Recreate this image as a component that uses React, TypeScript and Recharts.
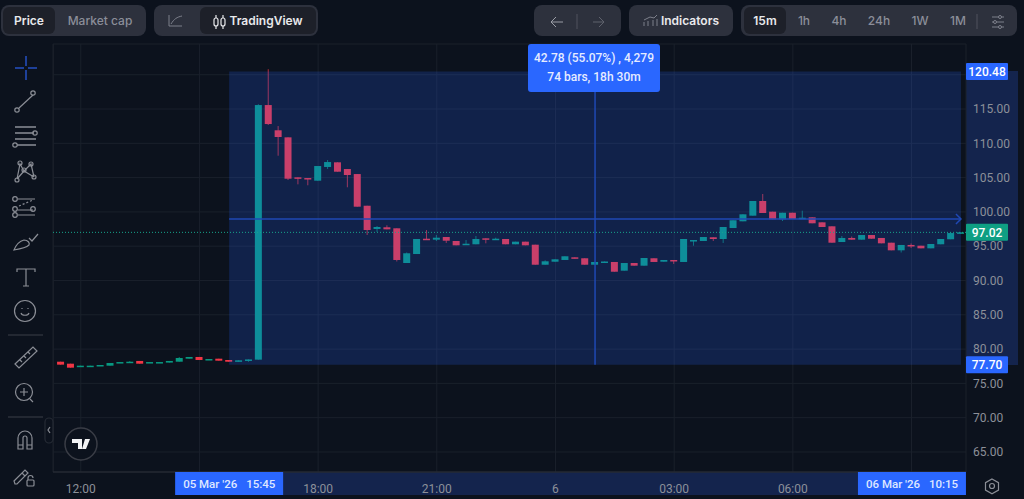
import { ReactNode } from 'react';
import {
  Bar,
  CartesianGrid,
  ComposedChart,
  ReferenceArea,
  ReferenceDot,
  ReferenceLine,
  XAxis,
  YAxis,
} from 'recharts';

const FIRST_BAR = -2;

const opens = [
  78.16, 77.87, 77.5, 77.52, 77.6, 77.58, 78.04, 78.1, 78.27, 78.05, 78.06, 78.03, 78.16, 78.6, 78.85, 78.48,
  78.6, 78.41, 78.16, 78.43, 78.46, 115.58, 111.9, 110.87, 105.04, 104.94, 104.55, 106.55, 107.23, 106.25, 105.52, 100.9,
  97.51, 97.76, 97.61, 92.55, 93.86, 96.09, 95.95, 96.34, 95.76, 95.22, 95.28, 96.15, 95.95, 96.05, 95.28, 95.66,
  95.22, 92.3, 92.74, 92.99, 93.38, 93.24, 92.3, 92.63, 92.7, 91.43, 92.55, 92.16, 93.24, 92.74, 92.99, 92.7,
  95.8, 95.76, 96.3, 96.05, 97.65, 98.63, 99.45, 101.59, 100.03, 98.92, 99.88, 99.01, 99.21, 98.48, 97.9, 95.61,
  96.2, 95.95, 96.63, 96.2, 95.51, 94.4, 95.18, 95.07, 94.69, 95.28, 96.01, 96.88,
];
const highs = [
  78.16, 77.87, 77.58, 77.58, 77.68, 77.97, 78.11, 78.25, 78.27, 78.11, 78.11, 78.27, 78.85, 78.85, 78.85, 78.55,
  78.6, 78.41, 78.36, 78.49, 115.7, 120.8, 112.52, 110.87, 105.04, 104.94, 106.69, 107.57, 107.23, 106.25, 105.52, 100.9,
  97.94, 98.05, 97.61, 94.08, 96.05, 97.36, 96.63, 96.34, 95.76, 95.9, 96.49, 96.15, 96.24, 96.05, 95.66, 95.66,
  95.22, 92.94, 93.09, 93.53, 93.38, 93.24, 92.7, 92.77, 92.7, 92.55, 92.55, 93.28, 93.24, 92.99, 92.99, 96.05,
  95.9, 96.34, 96.3, 97.8, 98.78, 99.65, 101.59, 102.61, 100.03, 99.88, 99.88, 100.18, 99.21, 98.48, 97.9, 96.49,
  96.41, 96.63, 96.63, 96.2, 95.51, 95.18, 95.4, 95.07, 95.32, 96.05, 97.07, 97.02,
];
const lows = [
  77.73, 77.29, 77.5, 77.52, 77.6, 77.58, 78.04, 78.1, 77.87, 78.05, 78.06, 78.03, 78.16, 78.6, 78.41, 78.48,
  78.31, 78.16, 78.16, 78.15, 78.46, 112.67, 108.19, 104.65, 104.02, 103.88, 104.55, 106.25, 105.86, 103.59, 100.76, 96.63,
  97.07, 97.46, 92.77, 92.55, 93.86, 95.95, 95.76, 95.47, 95.13, 95.22, 95.28, 95.42, 95.95, 95.28, 95.28, 95.13,
  92.3, 92.3, 92.74, 92.99, 93.18, 92.3, 92.3, 92.63, 91.28, 91.43, 92.16, 92.16, 92.7, 92.74, 92.41, 92.7,
  95.07, 95.76, 95.76, 95.47, 97.65, 98.63, 99.45, 99.84, 98.92, 98.67, 98.96, 99.01, 98.34, 97.8, 95.51, 95.61,
  95.95, 95.95, 96.09, 95.42, 94.4, 94.08, 94.74, 94.69, 94.69, 95.28, 96.01, 96.88,
];
const closes = [
  77.73, 77.29, 77.58, 77.58, 77.68, 77.97, 78.11, 78.16, 77.87, 78.11, 78.11, 78.27, 78.7, 78.85, 78.41, 78.55,
  78.31, 78.16, 78.36, 78.49, 115.58, 112.81, 110.92, 104.84, 104.9, 104.8, 106.69, 107.27, 105.86, 105.38, 100.76, 97.36,
  97.8, 97.46, 92.99, 93.97, 96.05, 95.95, 96.24, 95.8, 95.13, 95.36, 96.05, 95.98, 96.09, 95.28, 95.66, 95.13,
  92.3, 92.8, 93.09, 93.53, 93.18, 92.3, 92.7, 92.77, 91.28, 92.55, 92.16, 93.28, 92.7, 92.99, 92.8, 96.05,
  95.9, 96.34, 96.05, 97.8, 98.78, 99.65, 101.59, 99.84, 98.92, 99.88, 98.96, 99.15, 98.34, 97.8, 95.51, 96.2,
  95.95, 96.63, 96.09, 95.42, 94.4, 95.18, 94.96, 94.69, 95.32, 96.05, 96.92, 97.02,
];

const timeTicks = [0, 12, 24, 36, 48, 60, 72, 84];
const timeLabels = ['12:00', '', '18:00', '21:00', '6', '03:00', '06:00', ''];
const priceTicks = [65, 70, 75, 80, 85, 90, 95, 100, 105, 110, 115, 120];

const RANGE_START = 15;
const RANGE_END = 89;
const RANGE_LOW = 77.7;
const RANGE_HIGH = 120.48;
const RANGE_MID_PRICE = 98.96;
const RANGE_MID_BAR = 52;
const LAST_PRICE = 97.02;

const X_MIN = -2.81;
const X_MAX = 89.51;
const Y_MIN = 62.08;
const Y_MAX = 124.48;

const BG = '#0c121d';
const PANEL = '#2d313d';
const ACTIVE = '#1d2029';
const GRID = '#1a202b';
const MUTED = '#8c9099';
const BLUE = '#2a67ff';
const UP = '#089981';
const DOWN = '#f23645';
const RANGE_LINE = '#1f48b4';
const SANS = 'Inter, "Noto Sans", sans-serif';
const AXIS_FONT = 'Roboto, sans-serif';

const candles = opens.map((open, i) => ({
  bar: FIRST_BAR + i,
  open,
  high: highs[i],
  low: lows[i],
  close: closes[i],
  range: [lows[i], highs[i]],
}));

function Candle(props: any) {
  const { x, y, width, height, payload } = props;
  const { open, high, low, close } = payload;
  const perUnit = high > low ? height / (high - low) : 0;
  const bodyTop = y + (high - Math.max(open, close)) * perUnit;
  const bodyHeight = Math.max(Math.abs(open - close) * perUnit, 1.5);
  const color = close >= open ? UP : DOWN;
  return (
    <g>
      <line x1={x + width / 2} x2={x + width / 2} y1={y} y2={y + height} stroke={color} strokeWidth={1} opacity={0.75} />
      <rect x={x} y={bodyTop} width={width} height={bodyHeight} fill={color} />
    </g>
  );
}

function PriceTag(props: any) {
  const { cx, cy, label, tagColor } = props;
  return (
    <g>
      <rect x={cx} y={cy - 8.5} width={42} height={17} rx={1} fill={tagColor} />
      <text x={cx + 21} y={cy + 4.2} textAnchor="middle" fontFamily={AXIS_FONT} fontSize={12} fontWeight={500} fill="#ffffff">
        {label}
      </text>
    </g>
  );
}

function DateTag(props: any) {
  const { cx, cy, offset, date, time } = props;
  const left = cx + offset;
  return (
    <g fontFamily={AXIS_FONT} fontSize={11.5} fontWeight={500}>
      <rect x={left} y={cy} width={108} height={23} fill={BLUE} />
      <text x={left + 8} y={cy + 16} fill="#dfe7ff">{date}</text>
      <text x={left + 71} y={cy + 16} fill="#dfe7ff">{time}</text>
    </g>
  );
}

function Chevron(props: any) {
  const { cx, cy } = props;
  return (
    <polyline
      points={`${cx - 5},${cy - 5} ${cx},${cy} ${cx - 5},${cy + 5}`}
      fill="none"
      stroke={RANGE_LINE}
      strokeWidth={1.5}
    />
  );
}

function Box({ x, y, w, h, bg, r = 6, children }: { x: number; y: number; w: number; h: number; bg: string; r?: number; children?: ReactNode }) {
  return (
    <div style={{ position: 'absolute', left: x, top: y, width: w, height: h, background: bg, borderRadius: r }}>{children}</div>
  );
}

function Label({ cx, y, color, weight = 500, size = 12, font = SANS, children }: { cx: number; y: number; color: string; weight?: number; size?: number; font?: string; children: ReactNode }) {
  return (
    <div
      style={{
        position: 'absolute',
        left: cx - 80,
        width: 160,
        top: y,
        textAlign: 'center',
        whiteSpace: 'nowrap',
        color,
        fontWeight: weight,
        fontSize: size,
        lineHeight: '16px',
        fontFamily: font,
      }}
    >
      {children}
    </div>
  );
}

function Header() {
  return (
    <>
      <Box x={1} y={5} w={145} h={31} bg={PANEL} r={8} />
      <Box x={3} y={7} w={52} h={27} bg={ACTIVE} />
      <Label cx={29} y={13} color="#e8e9ec" weight={600}>Price</Label>
      <Label cx={100} y={13} color="#8b8e99">Market cap</Label>

      <Box x={154} y={5} w={164} h={31} bg={PANEL} r={8} />
      <Box x={200} y={7} w={116} h={27} bg={ACTIVE} />
      <Label cx={266} y={13} color="#e8e9ec" weight={600}>TradingView</Label>

      <Box x={534} y={5} w={87} h={31} bg={PANEL} r={8} />
      <Box x={629} y={5} w={104} h={31} bg={PANEL} r={8} />
      <Label cx={690} y={13} color="#e8e9ec" weight={600}>Indicators</Label>

      <Box x={741} y={5} w={276} h={31} bg={PANEL} r={8} />
      <Box x={744} y={7} w={42} h={27} bg={ACTIVE} />
      <Label cx={765} y={13} color="#e8e9ec" weight={600}>15m</Label>
      <Label cx={804} y={13} color="#8b8e99">1h</Label>
      <Label cx={839} y={13} color="#8b8e99">4h</Label>
      <Label cx={879} y={13} color="#8b8e99">24h</Label>
      <Label cx={920} y={13} color="#8b8e99">1W</Label>
      <Label cx={958} y={13} color="#8b8e99">1M</Label>

      <svg width={1024} height={44} style={{ position: 'absolute', left: 0, top: 0 }} fill="none">
        <g stroke="#7d808b" strokeWidth={1}>
          <path d="M169 15v11h13M171 24c3-5 6-7 11-8" />
          <path d="M551 22h12M556 17l-5 5 5 5" stroke="#9a9da6" />
          <path d="M577 14v15" stroke="#50535f" />
          <path d="M593 22h11M599 17l5 5-5 5" stroke="#5f626d" />
          <path d="M644 26v-4M648 26v-5M653 26v-6M657 26v-7M644 20l6-3 4 1 3-3" />
          <path d="M977 14v15" stroke="#50535f" />
          <path d="M992 17h12M992 22h12M992 27h12" />
          <circle cx={1000} cy={17} r={1.5} fill={PANEL} />
          <circle cx={995} cy={22} r={1.5} fill={PANEL} />
          <circle cx={1000} cy={27} r={1.5} fill={PANEL} />
        </g>
        <g stroke="#e8e9ec" strokeWidth={1.2}>
          <rect x={214} y={18} width={4} height={8} rx={2} />
          <rect x={221} y={18} width={4} height={8} rx={2} />
          <path d="M216 15v3M216 26v3M223 15v3M223 26v3" />
        </g>
      </svg>
    </>
  );
}

function Toolbar() {
  return (
    <svg width={60} height={499} style={{ position: 'absolute', left: 0, top: 0 }} fill="none" stroke="#8b8e96" strokeWidth={1.2}>
      <path d="M26 56v10M26 70v10M15 68h9M28 68h9" stroke="#2450c2" strokeWidth={1.5} />

      <path d="M19 108l14-13" />
      <circle cx={17} cy={110} r={2.2} />
      <circle cx={33} cy={93} r={2.2} />

      <path d="M15 127h21M15 133h19M15 139h21M17 145h19" strokeWidth={1.4} />
      <circle cx={35} cy={133} r={2.2} />
      <circle cx={15} cy={145} r={2.2} />

      <path d="M17 179l3-15 4 7 7-7 3 13M24 171l10 6M17 179l7-8" />
      <circle cx={20} cy={163} r={2} />
      <circle cx={31} cy={164} r={2} />
      <circle cx={24} cy={170} r={2} />
      <circle cx={17} cy={180} r={2} />
      <circle cx={34} cy={177} r={2} />

      <path d="M18 199h17M18 210h15M18 215h17" />
      <path d="M19 206l14-6" strokeDasharray="2 2" />
      <circle cx={15} cy={199} r={2.3} />
      <circle cx={33} cy={209} r={2.3} />
      <circle cx={15} cy={209} r={2.3} />
      <circle cx={15} cy={215} r={2.3} />

      <path d="M14 250c2-5 6-9 10-10 4 0 6 3 5 5-3 3-9 4-15 5zM29 238l3 3 6-7" />

      <path d="M17 272v-3h18v3M26 269v17M23 286h6" />

      <circle cx={25} cy={311} r={10.5} />
      <path d="M21 313c1 3 7 3 8 0M22 308v1M28 308v1" />

      <path d="M8 335h35" stroke="#2b303a" strokeWidth={1.5} />

      <path d="M15 364l18-17 4 4-18 17zM20 360l2 2M24 356l2 2M28 352l2 2" />

      <circle cx={24} cy={392} r={8.5} />
      <path d="M30 399l3 3M24 388v8M20 392h8" />

      <path d="M8 417h35" stroke="#2b303a" strokeWidth={1.5} />

      <rect x={45} y={418} width={8} height={25} rx={4} stroke="#262b35" fill={BG} />
      <path d="M50 427l-2 3 2 3" />

      <path d="M18 449v-11a7 7 0 0 1 14 0v11h-5v-11a2 2 0 0 0-4 0v11zM18 445h5M27 445h5" />

      <path d="M15 484l-1-3 11-11 3 3-11 11zM22 473l3 3" />
      <rect x={27} y={480} width={7} height={6} rx={1} />
      <path d="M28 480v-2a2.5 2.5 0 0 1 5 0" />
    </svg>
  );
}

function Overlays() {
  return (
    <>
      {/* tinted range on the two axes, sits behind the chart */}
      <Box x={966} y={71} w={52} h={294} bg="#14244d" r={0} />
      <Box x={229} y={472} w={733} h={23} bg="#14244d" r={0} />
      <Box x={53} y={44} w={1} h={428} bg="#181d27" r={0} />
    </>
  );
}

function FrontLayer() {
  return (
    <>
      <div
        style={{
          position: 'absolute',
          left: 528,
          top: 44,
          width: 132,
          height: 48,
          background: BLUE,
          borderRadius: 3,
        }}
      >
        <Label cx={66} y={6} color="#e6ecff" font={AXIS_FONT}>42.78 (55.07%) , 4,279</Label>
        <Label cx={66} y={25} color="#e6ecff" font={AXIS_FONT}>74 bars, 18h 30m</Label>
      </div>
      <svg width={1024} height={499} style={{ position: 'absolute', left: 0, top: 0 }} fill="none">
        <circle cx={81} cy={444} r={16} stroke="#3a3d46" strokeWidth={1.5} fill={BG} />
        <path d="M72 439h10v10h-4v-6h-6zM85 439h5l-4 10h-4z" fill="#f1f2f4" />
        <g stroke="#8b8e96" strokeWidth={1.2}>
          <path d="M992 479l6.5 3.7v7.4l-6.5 3.7-6.5-3.7v-7.4z" />
          <circle cx={992} cy={486} r={2.5} />
        </g>
      </svg>
    </>
  );
}

export default function App() {
  return (
    <div style={{ position: 'fixed', left: 0, top: 0, width: 1024, height: 499, background: BG, overflow: 'hidden' }}>
      <Overlays />
      <ComposedChart
        width={1024}
        height={499}
        data={candles}
        margin={{ top: 44, right: 0, bottom: 0, left: 53 }}
        style={{ position: 'absolute', left: 0, top: 0 }}
      >
        <CartesianGrid stroke={GRID} />
        <XAxis
          dataKey="bar"
          type="number"
          domain={[X_MIN, X_MAX]}
          allowDataOverflow
          ticks={timeTicks}
          tickFormatter={(value: number) => timeLabels[timeTicks.indexOf(value)]}
          tick={{ fontSize: 12, fill: MUTED, fontFamily: AXIS_FONT }}
          tickLine={false}
          axisLine={{ stroke: '#2a2e39' }}
          height={27}
          tickMargin={6}
        />
        <YAxis
          orientation="right"
          type="number"
          domain={[Y_MIN, Y_MAX]}
          allowDataOverflow
          ticks={priceTicks}
          tickFormatter={(value: number) => (value === 120 ? '' : value.toFixed(2))}
          tick={{ fontSize: 12, fill: MUTED, fontFamily: AXIS_FONT, dx: -1 }}
          tickLine={false}
          axisLine={false}
          width={58}
          interval={0}
        />
        <Bar dataKey="range" barSize={7} isAnimationActive={false} shape={<Candle />} />
        <ReferenceArea x1={RANGE_START} x2={RANGE_END} y1={RANGE_LOW} y2={RANGE_HIGH} fill="#2962ff" fillOpacity={0.2} stroke="none" zIndex={500} />
        <ReferenceLine y={LAST_PRICE} stroke="#17a58c" strokeDasharray="1 2" zIndex={600} />
        <ReferenceLine
          segment={[{ x: RANGE_START, y: RANGE_MID_PRICE }, { x: RANGE_END, y: RANGE_MID_PRICE }]}
          stroke={RANGE_LINE}
          strokeWidth={1.5}
          zIndex={600}
        />
        <ReferenceLine
          segment={[{ x: RANGE_MID_BAR, y: RANGE_LOW }, { x: RANGE_MID_BAR, y: RANGE_HIGH }]}
          stroke={RANGE_LINE}
          strokeWidth={1.5}
          zIndex={600}
        />
        <ReferenceDot x={RANGE_END} y={RANGE_MID_PRICE} r={0} shape={<Chevron />} zIndex={600} />
        <ReferenceDot x={X_MAX} y={RANGE_HIGH} shape={<PriceTag label="120.48" tagColor={BLUE} />} zIndex={700} />
        <ReferenceDot x={X_MAX} y={LAST_PRICE} shape={<PriceTag label="97.02" tagColor="#0f9f83" />} zIndex={700} />
        <ReferenceDot x={X_MAX} y={RANGE_LOW} shape={<PriceTag label="77.70" tagColor={BLUE} />} zIndex={700} />
        <ReferenceDot x={RANGE_START} y={Y_MIN} shape={<DateTag offset={-54} date="05 Mar '26" time="15:45" />} zIndex={700} />
        <ReferenceDot x={RANGE_END} y={Y_MIN} shape={<DateTag offset={-103} date="06 Mar '26" time="10:15" />} zIndex={700} />
      </ComposedChart>
      <Header />
      <Toolbar />
      <FrontLayer />
    </div>
  );
}
